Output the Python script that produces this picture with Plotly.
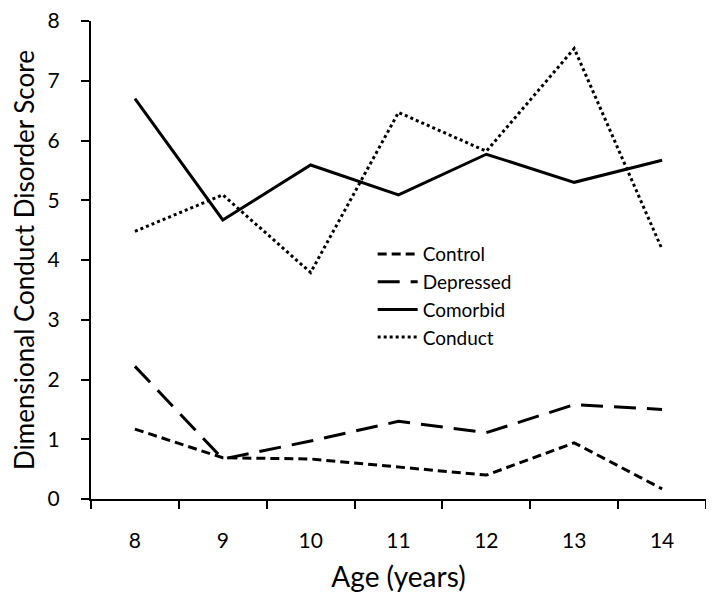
import plotly.graph_objects as go

ages = ["8", "9", "10", "11", "12", "13", "14"]
control = [1.17, 0.69, 0.67, 0.53, 0.40, 0.94, 0.17]
depressed = [2.22, 0.67, 0.97, 1.30, 1.11, 1.58, 1.50]
comorbid = [6.70, 4.67, 5.59, 5.09, 5.77, 5.30, 5.67]
conduct = [4.48, 5.09, 3.79, 6.47, 5.82, 7.54, 4.18]

FONT = "Lato"
fig = go.Figure()
fig.add_trace(go.Scatter(x=ages, y=control, name="Control", mode="lines",
                         line=dict(color="black", width=3, dash="9px,5px")))
fig.add_trace(go.Scatter(x=ages, y=depressed, name="Depressed", mode="lines",
                         line=dict(color="black", width=3, dash="22px,11px")))
fig.add_trace(go.Scatter(x=ages, y=comorbid, name="Comorbid", mode="lines",
                         line=dict(color="black", width=3)))
fig.add_trace(go.Scatter(x=ages, y=conduct, name="Conduct", mode="lines",
                         line=dict(color="black", width=3, dash="dot")))

fig.update_layout(
    width=706, height=590,
    margin=dict(l=83, r=8, t=13, b=99),
    paper_bgcolor="white", plot_bgcolor="white",
    font=dict(family=FONT, color="black", size=20),
    legend=dict(x=0.458, y=0.552, xanchor="left", yanchor="top",
                bgcolor="rgba(0,0,0,0)", font=dict(size=19, family=FONT),
                itemwidth=40, tracegroupgap=0),
    showlegend=True,
)
fig.update_xaxes(type="category", range=[-0.5, 6.5], tickson="boundaries",
                 automargin=False, ticklabeloverflow="allow",
                 ticks="outside", ticklen=8, ticklabelstandoff=22,
                 tickwidth=2, tickcolor="black", showline=True, linecolor="black",
                 linewidth=2, showgrid=False, zeroline=False,
                 tickfont=dict(size=21, family=FONT),
                 title=dict(text="Age (years)", font=dict(size=28, family=FONT), standoff=16))
fig.update_yaxes(range=[0, 8], dtick=1, ticks="outside", ticklen=8, tickwidth=2,
                 automargin=False, ticklabelstandoff=17, ticklabeloverflow="allow",
                 tickcolor="black", showline=True, linecolor="black", linewidth=2,
                 showgrid=False, zeroline=False,
                 tickfont=dict(size=21, family=FONT),
                 title=dict(text="Dimensional Conduct Disorder Score",
                            font=dict(size=26, family=FONT), standoff=13))

fig.write_html("out.html")
